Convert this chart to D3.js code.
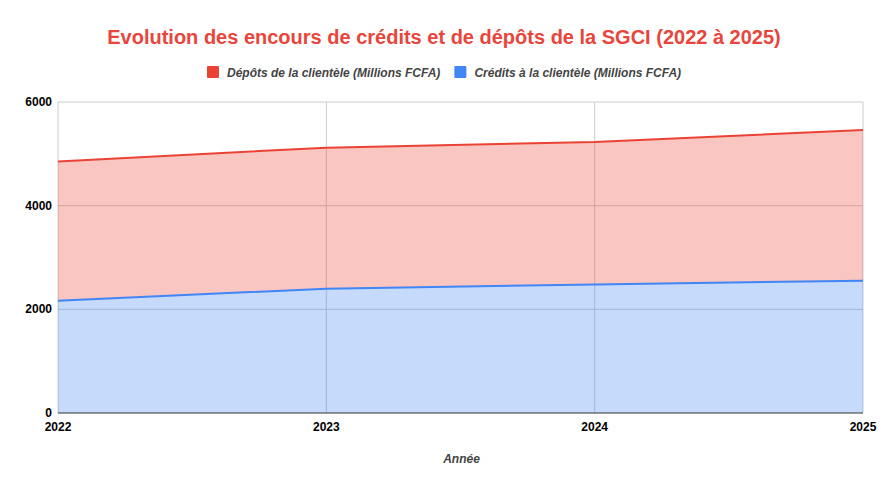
<!DOCTYPE html>
<html>
<head>
<meta charset="utf-8">
<script src="https://cdn.jsdelivr.net/npm/d3@7"></script>
<style>
  body { margin: 0; background: #fff; }
  text { font-family: "Liberation Sans", Arial, sans-serif; }
</style>
</head>
<body>
<svg id="chart" width="888" height="490"></svg>
<script>
// --- data ---
const years = [2022, 2023, 2024, 2025];
const credits = [2167, 2398, 2481, 2553];
const deposits = [2687, 2721, 2748, 2907]; // stacked on top of credits
const yTicks = [0, 2000, 4000, 6000];

const seriesNames = {
  deposits: "Dépôts de la clientèle (Millions FCFA)",
  credits: "Crédits à la clientèle (Millions FCFA)"
};
const colors = { deposits: "#ea4335", credits: "#4285f4" };

const svg = d3.select("#chart");
const margin = { top: 102, right: 25, bottom: 77, left: 58 };
const width = 888 - margin.left - margin.right;
const height = 490 - margin.top - margin.bottom;

const x = d3.scalePoint().domain(years).range([0, width]);
const y = d3.scaleLinear().domain([0, 6000]).range([height, 0]);

const rows = years.map((yr, i) => ({ year: yr, credits: credits[i], deposits: deposits[i] }));
const stacked = d3.stack().keys(["credits", "deposits"])(rows);

// title
svg.append("text")
  .attr("x", 444).attr("y", 44)
  .attr("text-anchor", "middle")
  .attr("font-size", 20).attr("font-weight", "bold")
  .attr("fill", "#e8453c")
  .text("Evolution des encours de crédits et de dépôts de la SGCI (2022 à 2025)");

// legend
const legend = svg.append("g").attr("transform", "translate(207,66)");
const legendItems = legend.selectAll("g").data(["deposits", "credits"]).join("g");
legendItems.append("rect").attr("y", 0).attr("width", 12).attr("height", 12)
  .attr("rx", 1).attr("fill", k => colors[k]);
legendItems.append("text").attr("x", 20).attr("y", 10.5)
  .attr("font-size", 12).attr("font-style", "italic").attr("font-weight", "bold")
  .attr("fill", "#444")
  .text(k => seriesNames[k]);
// place second item after the first one's text
let lx = 0;
legendItems.each(function () {
  d3.select(this).attr("transform", `translate(${lx},0)`);
  lx += 20 + this.querySelector("text").getComputedTextLength() + 14;
});

const g = svg.append("g").attr("transform", `translate(${margin.left},${margin.top})`);

// grid
g.selectAll("line.hgrid").data(yTicks.filter(d => d > 0)).join("line")
  .attr("x1", 0).attr("x2", width)
  .attr("y1", d => y(d)).attr("y2", d => y(d))
  .attr("stroke", "#cccccc");
g.selectAll("line.vgrid").data(years).join("line")
  .attr("x1", d => x(d)).attr("x2", d => x(d))
  .attr("y1", 0).attr("y2", height)
  .attr("stroke", "#cccccc");

// areas
const area = d3.area()
  .x(d => x(d.data.year))
  .y0(d => y(d[0]))
  .y1(d => y(d[1]));
g.selectAll("path.area").data(stacked).join("path")
  .attr("d", area)
  .attr("fill", d => colors[d.key])
  .attr("fill-opacity", 0.3);

// lines
const line = d3.line()
  .x(d => x(d.data.year))
  .y(d => y(d[1]));
g.selectAll("path.line").data(stacked).join("path")
  .attr("d", line)
  .attr("fill", "none")
  .attr("stroke", d => colors[d.key])
  .attr("stroke-width", 2);

// baseline
g.append("line").attr("x1", 0).attr("x2", width)
  .attr("y1", height).attr("y2", height)
  .attr("stroke", "#333").attr("stroke-width", 1);

// y axis labels
g.selectAll("text.ytick").data(yTicks).join("text")
  .attr("x", -6).attr("y", d => y(d) + 4)
  .attr("text-anchor", "end")
  .attr("font-size", 12).attr("font-weight", "bold").attr("fill", "#000")
  .text(d => d);

// x axis labels
g.selectAll("text.xtick").data(years).join("text")
  .attr("x", d => x(d)).attr("y", height + 18)
  .attr("text-anchor", "middle")
  .attr("font-size", 12).attr("font-weight", "bold").attr("fill", "#000")
  .text(d => d);

// x axis title
svg.append("text")
  .attr("x", margin.left + width / 2 + 1).attr("y", 463)
  .attr("text-anchor", "middle")
  .attr("font-size", 12).attr("font-style", "italic").attr("font-weight", "bold")
  .attr("fill", "#444")
  .text("Année");
</script>
</body>
</html>
